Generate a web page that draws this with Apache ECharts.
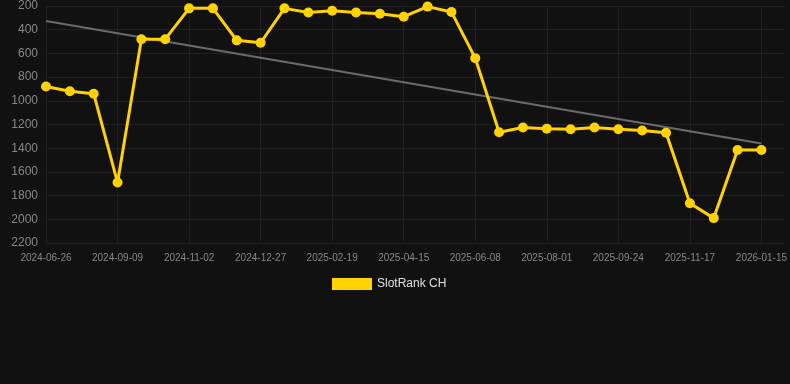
<!DOCTYPE html>
<html>
<head>
<meta charset="utf-8">
<script src="https://cdn.jsdelivr.net/npm/echarts@6/dist/echarts.min.js"></script>
<style>
html, body { margin: 0; padding: 0; background: #111111; }
#rankChart { width: 790px; height: 384px; }
</style>
</head>
<body>
<div id="rankChart"></div>
<script>
// dates of the rank snapshots (one per point)
var dates = [
	'2024-06-26', '2024-07-21', '2024-08-15', '2024-09-09', '2024-09-27', '2024-10-15',
	'2024-11-02', '2024-11-20', '2024-12-09', '2024-12-27', '2025-01-14', '2025-02-01',
	'2025-02-19', '2025-03-10', '2025-03-28', '2025-04-15', '2025-05-03', '2025-05-21',
	'2025-06-08', '2025-06-26', '2025-07-14', '2025-08-01', '2025-08-19', '2025-09-06',
	'2025-09-24', '2025-10-12', '2025-10-30', '2025-11-17', '2025-12-07', '2025-12-27',
	'2026-01-15'
];
var rankCH = [
	880, 920, 940, 1690, 480, 480,
	220, 220, 490, 510, 220, 255,
	240, 255, 265, 290, 205, 250,
	640, 1265, 1225, 1235, 1240, 1225,
	1240, 1250, 1270, 1865, 1990, 1415,
	1415
];
// trend line: only its two end values, joined across the gap
var trendStart = 327;
var trendEnd = 1360;

var trendData = [];
for (var i = 0; i < dates.length; i++) {
	trendData.push(null);
}
trendData[0] = trendStart;
trendData[dates.length - 1] = trendEnd;

var rankChart = echarts.init(document.getElementById('rankChart'));
var option = {
	backgroundColor : '#111111',
	animation : false,
	grid : {
		left : 46,
		right : 4,
		top : 6,
		bottom : 141
	},
	legend : {
		data : [ 'SlotRank CH' ],
		top : 273,
		left : 327,
		icon : 'rect',
		itemWidth : 40,
		itemHeight : 12,
		itemGap : 6,
		textStyle : {
			color : '#e0e0e0',
			fontSize : 12,
			fontFamily : 'Liberation Sans, Arial, sans-serif'
		}
	},
	xAxis : {
		type : 'category',
		boundaryGap : false,
		// one blank slot on the right keeps the grid running to the edge
		data : dates.concat([ '' ]),
		axisLine : { show : false },
		axisTick : { show : false },
		axisLabel : {
			interval : 2,
			color : '#888888',
			fontSize : 10,
			margin : 10,
			fontFamily : 'Liberation Sans, Arial, sans-serif'
		},
		splitLine : {
			show : true,
			interval : 2,
			lineStyle : { color : '#202020', width : 1 }
		}
	},
	yAxis : {
		type : 'value',
		inverse : true,
		min : 200,
		max : 2200,
		interval : 200,
		axisLine : { show : false },
		axisTick : { show : false },
		axisLabel : {
			color : '#888888',
			fontSize : 12,
			margin : 8,
			fontFamily : 'Liberation Sans, Arial, sans-serif',
			formatter : function(v) { return String(v); }
		},
		splitLine : {
			lineStyle : { color : '#202020', width : 1 }
		}
	},
	series : [ {
		name : 'Trend',
		type : 'line',
		data : trendData,
		connectNulls : true,
		symbol : 'none',
		lineStyle : { color : '#6b6b6b', width : 2 },
		z : 1
	}, {
		name : 'SlotRank CH',
		type : 'line',
		data : rankCH,
		symbol : 'circle',
		symbolSize : 10,
		itemStyle : { color : '#ffd200' },
		lineStyle : { color : '#ffd200', width : 3 },
		z : 2
	} ]
};
rankChart.setOption(option);
</script>
</body>
</html>
